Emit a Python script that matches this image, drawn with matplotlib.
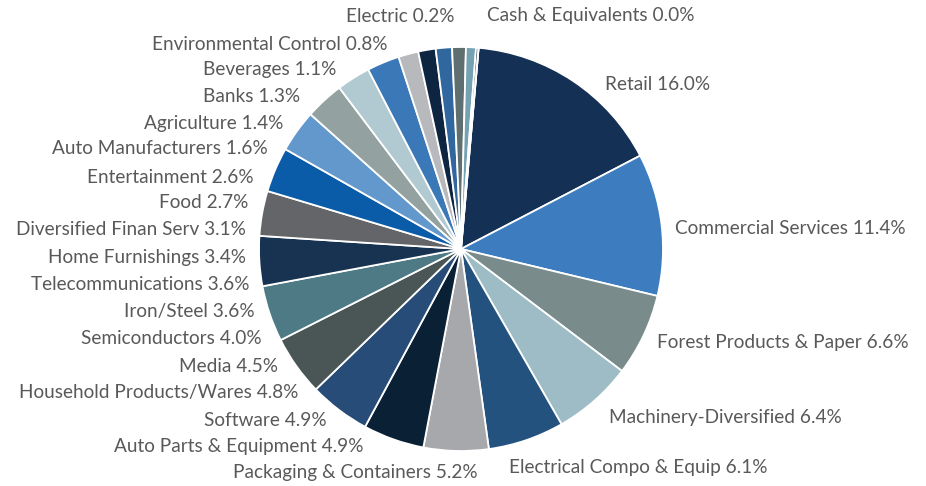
import matplotlib.pyplot as plt

# Sector weights (%), clockwise from the top of the pie
sectors = ["Retail", "Commercial Services", "Forest Products & Paper",
           "Machinery-Diversified", "Electrical Compo & Equip",
           "Packaging & Containers", "Auto Parts & Equipment", "Software",
           "Household Products/Wares", "Media", "Semiconductors", "Iron/Steel",
           "Telecommunications", "Home Furnishings", "Diversified Finan Serv",
           "Food", "Entertainment", "Auto Manufacturers", "Agriculture", "Banks",
           "Beverages", "Environmental Control", "Electric", "Cash & Equivalents"]
weights = [16.0, 11.4, 6.6, 6.4, 6.1, 5.2, 4.9, 4.9, 4.8, 4.5, 4.0, 3.6,
           3.6, 3.4, 3.1, 2.7, 2.6, 1.6, 1.4, 1.3, 1.1, 0.8, 0.2, 0.0]

colors = ["#143054", "#3d7dbf", "#798b8b", "#9dbcc6", "#24527f", "#a7a8ab",
          "#0a2035", "#264c77", "#4a5556", "#4e7a86", "#183351", "#636569",
          "#0a5ca8", "#6298cc", "#93a1a1", "#b1c9d1", "#3a78b7", "#b8b9bd",
          "#0e2541", "#30679f", "#5f6f6f", "#74a2b3", "#1f3a5f", "#8aa9b8"]

# label anchors in figure pixels (x, y from top, alignment)
label_pos = [(605, 84, "left"), (675, 228, "left"), (657, 342, "left"),
             (609, 418, "left"), (509, 468, "left"), (478, 472, "right"),
             (364, 446, "right"), (327, 420, "right"), (298, 392, "right"),
             (278, 366, "right"), (262, 339, "right"), (255, 312, "right"),
             (250, 284, "right"), (246, 257, "right"), (246, 229, "right"),
             (248, 203, "right"), (254, 177, "right"), (268, 149, "right"),
             (283, 123, "right"), (300, 96, "right"), (336, 70, "right"),
             (387, 44, "right"), (454, 16, "right"), (487, 16, "left")]

W, H = 926, 486
cx, cy, r = 461, 249, 202

fig = plt.figure(figsize=(W / 100, H / 100), dpi=100)
ax = fig.add_axes([(cx - r) / W, (H - cy - r) / H, 2 * r / W, 2 * r / H])

ax.pie(weights, colors=colors, startangle=85, counterclock=False,
       radius=1, wedgeprops=dict(edgecolor="white", linewidth=1.3))
ax.set_xlim(-1, 1)
ax.set_ylim(-1, 1)
ax.set_aspect("equal")
ax.axis("off")

for name, w, (x, y, ha) in zip(sectors, weights, label_pos):
    fig.text(x / W, 1 - y / H, f"{name} {w:.1f}%", ha=ha, va="center",
             fontsize=13.7, color="#595959", family="Lato")

plt.savefig("out.png", dpi=100)
